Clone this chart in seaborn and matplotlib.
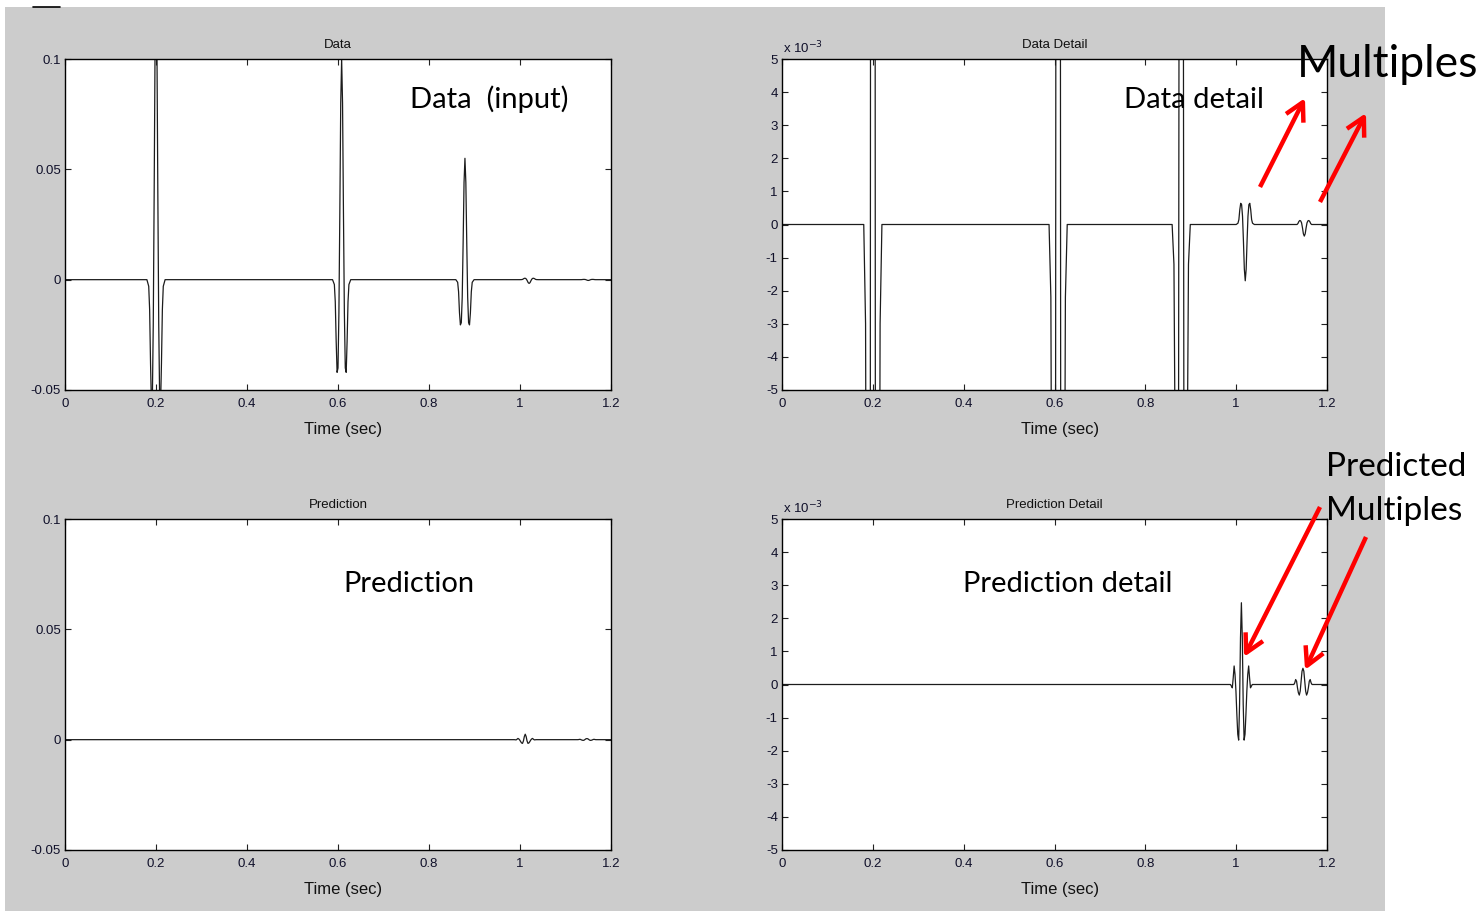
import numpy as np
import pandas as pd
import matplotlib
matplotlib.use("Agg")
import matplotlib.pyplot as plt
import seaborn as sns
from matplotlib.patches import Rectangle
from matplotlib.lines import Line2D

# ---------------- data ----------------
T_START, T_END = 0.0, 1.2

offsets_21 = [-0.020, -0.018, -0.016, -0.014, -0.012, -0.010, -0.008, -0.006, -0.004, -0.002,
              0.0, 0.002, 0.004, 0.006, 0.008, 0.010, 0.012, 0.014, 0.016, 0.018, 0.020]
offsets_25 = [-0.024, -0.022] + offsets_21 + [0.022, 0.024]

# Data (input): primary events and multiples
data_event_times = [0.200, 0.608, 0.879, 1.020, 1.150]
data_event_offsets = [offsets_21, offsets_21, offsets_21, offsets_21, offsets_21]
data_event_values = [
    [0, -0.0015, -0.003, -0.0135, -0.038, -0.057, -0.054, -0.020, 0.040, 0.108, 0.135,
     0.108, 0.040, -0.020, -0.054, -0.057, -0.038, -0.0135, -0.003, -0.0015, 0],
    [0, -0.0011, -0.0022, -0.010, -0.028, -0.042, -0.040, -0.015, 0.030, 0.080, 0.100,
     0.080, 0.030, -0.015, -0.040, -0.042, -0.028, -0.010, -0.0022, -0.0011, 0],
    [0, -0.0006, -0.0012, -0.0055, -0.0150, -0.0205, -0.0195, -0.0080, 0.0165, 0.044, 0.055,
     0.044, 0.0165, -0.0080, -0.0195, -0.0205, -0.0150, -0.0055, -0.0012, -0.0006, 0],
    [0, 0.00002, 0.00004, 0.00015, 0.00045, 0.00064, 0.0006, 0.00025, -0.0005, -0.00135, -0.0017,
     -0.00135, -0.0005, 0.00025, 0.0006, 0.00064, 0.00045, 0.00015, 0.00004, 0.00002, 0],
    [0, 0, 0, 0.00003, 0.00009, 0.00012, 0.00011, 0.00005, -0.0001, -0.00028, -0.00035,
     -0.00028, -0.0001, 0.00005, 0.00011, 0.00012, 0.00009, 0.00003, 0, 0, 0],
]

# Prediction: predicted multiples
pred_event_times = [1.0115, 1.147]
pred_event_offsets = [offsets_25, offsets_21]
pred_event_values = [
    [0, -0.00005, -0.0001, 0.0002, 0.00056, 0.0003, -0.0002, -0.0009, -0.0015, -0.00168, -0.0006,
     0.0014, 0.00247, 0.0014, -0.0006, -0.00168, -0.0015, -0.0009, -0.0002, 0.0003, 0.00056,
     0.0002, -0.0001, -0.00005, 0],
    [0, 0.00005, 0.00015, 0.0001, -0.0001, -0.00025, -0.00032, -0.0002, 0.0001, 0.0004, 0.00049,
     0.0004, 0.0001, -0.0002, -0.00032, -0.00025, -0.0001, 0.0001, 0.00015, 0.00005, 0],
]

x_ticks = [0, 0.2, 0.4, 0.6, 0.8, 1.0, 1.2]
x_tick_labels = ["0", "0.2", "0.4", "0.6", "0.8", "1", "1.2"]
full_y_ticks = [-0.05, 0, 0.05, 0.1]
full_y_labels = ["-0.05", "0", "0.05", "0.1"]
detail_y_ticks = [-0.005, -0.004, -0.003, -0.002, -0.001, 0, 0.001, 0.002, 0.003, 0.004, 0.005]
detail_y_labels = ["-5", "-4", "-3", "-2", "-1", "0", "1", "2", "3", "4", "5"]

panel_titles = ["Data", "Data Detail", "Prediction", "Prediction Detail"]
x_label = "Time (sec)"


def build_trace(times, offs_list, vals_list):
    t, v = [T_START], [0.0]
    for tc, offs, vals in zip(times, offs_list, vals_list):
        t += [tc + o for o in offs]
        v += list(vals)
    t.append(T_END)
    v.append(0.0)
    return pd.DataFrame({"time": t, "amp": v})


data_df = build_trace(data_event_times, data_event_offsets, data_event_values)
pred_df = build_trace(pred_event_times, pred_event_offsets, pred_event_values)

# ---------------- style ----------------
sns.set_style("ticks")
plt.rcParams["font.family"] = ["Liberation Sans", "DejaVu Sans"]
plt.rcParams["axes.linewidth"] = 1.0

W, H = 1479, 911
fig = plt.figure(figsize=(W / 100, H / 100), dpi=100, facecolor="white")

# grey MATLAB figure area
fig.patches.append(Rectangle((5 / W, 0), (1385 - 5) / W, (911 - 7) / H,
                             transform=fig.transFigure, facecolor="#CCCCCC",
                             edgecolor="none", zorder=-10))
fig.add_artist(Line2D([33 / W, 60 / W], [1 - 7 / H, 1 - 7 / H], color="black", lw=1.2))


def px_axes(x0, y0, x1, y1):
    return fig.add_axes([x0 / W, 1 - y1 / H, (x1 - x0) / W, (y1 - y0) / H])


ax_tl = px_axes(65, 59, 611, 390)
ax_tr = px_axes(782, 59, 1327, 390)
ax_bl = px_axes(65, 519, 611, 850)
ax_br = px_axes(782, 519, 1327, 850)

tick_color = "#10102a"
line_kw = dict(color="#1c1c1c", linewidth=0.9, estimator=None, sort=False, legend=False)

panels = [
    (ax_tl, data_df, full_y_ticks, full_y_labels, (-0.05, 0.1)),
    (ax_tr, data_df, detail_y_ticks, detail_y_labels, (-0.005, 0.005)),
    (ax_bl, pred_df, full_y_ticks, full_y_labels, (-0.05, 0.1)),
    (ax_br, pred_df, detail_y_ticks, detail_y_labels, (-0.005, 0.005)),
]

for (ax, df, yt, yl, ylim), title in zip(panels, panel_titles):
    ax.set_facecolor("white")
    sns.lineplot(data=df, x="time", y="amp", ax=ax, **line_kw)
    ax.set_xlim(T_START, T_END)
    ax.set_ylim(*ylim)
    ax.set_xticks(x_ticks)
    ax.set_xticklabels(x_tick_labels)
    ax.set_yticks(yt)
    ax.set_yticklabels(yl)
    ax.tick_params(direction="in", top=True, right=True, length=4, width=0.8,
                   labelsize=9.5, labelcolor=tick_color, color="#222222")
    ax.tick_params(axis="x", pad=5.5)
    ax.tick_params(axis="y", pad=3)
    for s in ax.spines.values():
        s.set_visible(True)
        s.set_color("black")
        s.set_linewidth(1.0)
    ax.set_title(title, fontsize=9.5, color="#111111", pad=8)
    ax.set_xlabel(x_label, fontsize=12, color="#111111")
    ax.xaxis.set_label_coords(0.51, -0.096)
    ax.set_ylabel("")

# x 10^-3 multipliers
for y_base in (53, 513):
    fig.text(783 / W, 1 - y_base / H, r"x 10$^{-3}$", fontsize=9.5, color=tick_color,
             ha="left", va="baseline")

# ---------------- annotations ----------------
ann_font = ["Lato", "DejaVu Sans"]


def ptext(x, y_base, s, size):
    fig.text(x / W, 1 - y_base / H, s, fontsize=size, family=ann_font,
             color="black", ha="left", va="baseline")


ptext(410, 108, "Data  (input)", 21)
ptext(1124, 108, "Data detail", 21)
ptext(1297, 77, "Multiples", 32)
ptext(343, 592, "Prediction", 21)
ptext(963, 592, "Prediction detail", 21)
ptext(1326, 476, "Predicted", 24)
ptext(1326, 520, "Multiples", 24)

arrows = [((1260, 187), (1305, 98)),
          ((1320, 202), (1366, 113)),
          ((1320, 507), (1244, 657)),
          ((1366, 537), (1305, 670))]
for (tx, ty), (hx, hy) in arrows:
    fig.add_artist(matplotlib.patches.FancyArrowPatch(
        (tx / W, 1 - ty / H), (hx / W, 1 - hy / H), transform=fig.transFigure,
        arrowstyle="->,head_length=1.3,head_width=0.7", mutation_scale=10,
        color="#FF0000", lw=3.2, shrinkA=0, shrinkB=0, capstyle="butt"))

fig.savefig("out.png", dpi=100, facecolor="white")
